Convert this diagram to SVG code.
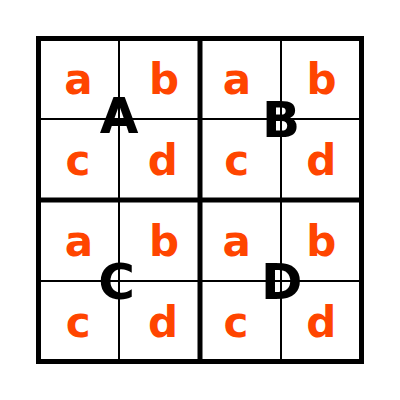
<svg xmlns="http://www.w3.org/2000/svg" width="400" height="400" viewBox="0 0 400 400">
<style>
.thin{stroke:#000;stroke-width:2;fill:none}
.thick{stroke:#000;stroke-width:5;fill:none}
.s{font-family:"DejaVu Sans",Verdana,sans-serif;font-weight:bold;font-size:42px;fill:#FF4500;text-anchor:middle}
.L{font-family:"DejaVu Sans",Verdana,sans-serif;font-weight:bold;font-size:50px;fill:#000;text-anchor:middle}
</style>
<rect width="400" height="400" fill="#fff"/>
<g id="grid">
<line class="thin" x1="119" y1="38.5" x2="119" y2="361.5"/>
<line class="thin" x1="281" y1="38.5" x2="281" y2="361.5"/>
<line class="thin" x1="38.5" y1="119" x2="361.5" y2="119"/>
<line class="thin" x1="38.5" y1="281" x2="361.5" y2="281"/>
<line class="thick" x1="200" y1="38.5" x2="200" y2="361.5"/>
<line class="thick" x1="38.5" y1="200" x2="361.5" y2="200"/>
<rect class="thick" x="38.5" y="38.5" width="323" height="323"/>
</g>
<g id="qA">
<text class="s" x="78.5" y="94">a</text>
<text class="s" x="164" y="94">b</text>
<text class="s" x="78" y="175">c</text>
<text class="s" x="162.7" y="175">d</text>
<text class="L" x="119" y="133">A</text>
</g>
<g id="qB">
<text class="s" x="237" y="94">a</text>
<text class="s" x="321.6" y="94">b</text>
<text class="s" x="236.7" y="175">c</text>
<text class="s" x="321.2" y="175">d</text>
<text class="L" x="281" y="136.5">B</text>
</g>
<g id="qC">
<text class="s" x="79" y="256">a</text>
<text class="s" x="164" y="256">b</text>
<text class="s" x="78.3" y="337">c</text>
<text class="s" x="163" y="337">d</text>
<text class="L" x="116.5" y="299">C</text>
</g>
<g id="qD">
<text class="s" x="236.7" y="256">a</text>
<text class="s" x="321.3" y="256">b</text>
<text class="s" x="236" y="337">c</text>
<text class="s" x="321.2" y="337">d</text>
<text class="L" x="281.7" y="299">D</text>
</g>
</svg>
